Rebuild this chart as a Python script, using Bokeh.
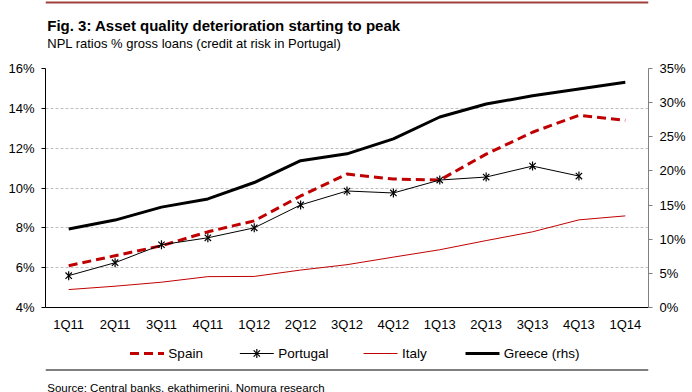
import math
from bokeh.plotting import figure
from bokeh.layouts import column
from bokeh.models import (FactorRange, Range1d, LinearAxis, FixedTicker, PrintfTickFormatter,
                          Label, Span)
from bokeh.core.properties import value
from bokeh.embed import file_html
from bokeh.resources import INLINE

quarters = ["1Q11", "2Q11", "3Q11", "4Q11", "1Q12", "2Q12", "3Q12", "4Q12",
            "1Q13", "2Q13", "3Q13", "4Q13", "1Q14"]
spain = [6.1, 6.6, 7.1, 7.8, 8.35, 9.6, 10.7, 10.45, 10.4, 11.7, 12.8, 13.65, 13.4]
portugal_q = quarters[:12]
portugal = [5.6, 6.25, 7.15, 7.5, 8.0, 9.15, 9.85, 9.75, 10.4, 10.55, 11.1, 10.6]
italy = [4.9, 5.07, 5.27, 5.55, 5.56, 5.88, 6.15, 6.53, 6.9, 7.36, 7.8, 8.4, 8.6]
greece_rhs = [11.5, 12.8, 14.7, 15.9, 18.3, 21.5, 22.5, 24.7, 27.9, 29.8, 31.0, 32.0, 33.0]
left_ticks = [4, 6, 8, 10, 12, 14, 16]
right_ticks = [0, 5, 10, 15, 20, 25, 30, 35]
series_names = ["Spain", "Portugal", "Italy", "Greece (rhs)"]

title_text = "Fig. 3: Asset quality deterioration starting to peak"
subtitle_text = "NPL ratios % gross loans (credit at risk in Portugal)"
source_text = "Source: Central banks, ekathimerini, Nomura research"

FONT = "Liberation Sans"
RED = "#C00000"
W = 692

spain_style = dict(line_color=RED, line_width=3, line_dash="9 5")
port_style = dict(line_color="black", line_width=1)
mark_style = dict(size=9, line_color="black", line_width=1.2)
italy_style = dict(line_color=RED, line_width=1)
greece_style = dict(line_color="black", line_width=3)


def blank_fig(h):
    f = figure(width=W, height=h, x_range=Range1d(0, W), y_range=Range1d(h, 0),
               x_axis_location=None, y_axis_location=None, min_border=0,
               output_backend="svg", toolbar_location=None, outline_line_color=None,
               background_fill_color="white", border_fill_color="white")
    f.grid.visible = False
    return f


# ---------- header ----------
top = blank_fig(58)
top.add_layout(Span(location=2, dimension="width", line_color="#A0403C", line_width=2))
top.add_layout(Label(x=2, y=25, text=title_text, text_font=FONT, text_font_size="15px",
                     text_font_style="bold", text_color="black", text_baseline="alphabetic"))
top.add_layout(Label(x=2, y=43, text=subtitle_text, text_font=FONT, text_font_size="13px",
                     text_color="black", text_baseline="alphabetic"))

# ---------- main chart ----------
p = figure(x_range=FactorRange(factors=quarters), y_range=Range1d(4, 16),
           width=W, frame_width=603, frame_height=239,
           min_border_left=45, min_border_right=44, min_border_top=10, min_border_bottom=25,
           output_backend="svg", toolbar_location=None, outline_line_color=None,
           background_fill_color="white", border_fill_color="white")
p.extra_y_ranges = {"rhs": Range1d(0, 35)}

ax = p.yaxis[0]
ax.ticker = FixedTicker(ticks=left_ticks)
ax.formatter = PrintfTickFormatter(format="%d%%")
ax.major_tick_out = 4
ax.major_tick_in = 0
ax.minor_tick_line_color = None
ax.axis_line_color = "black"
ax.major_tick_line_color = "black"
ax.major_label_standoff = 7
ax.major_label_text_font = FONT
ax.major_label_text_font_size = "13px"
ax.major_label_text_color = "black"

rax = LinearAxis(y_range_name="rhs", ticker=FixedTicker(ticks=right_ticks),
                 formatter=PrintfTickFormatter(format="%d%%"))
rax.major_tick_out = 4
rax.major_tick_in = 0
rax.minor_tick_line_color = None
rax.axis_line_color = "#808080"
rax.major_tick_line_color = "#808080"
rax.major_label_standoff = 7
rax.major_label_text_font = FONT
rax.major_label_text_font_size = "13px"
rax.major_label_text_color = "black"
p.add_layout(rax, "right")

xax = p.xaxis[0]
xax.major_tick_out = 0
xax.major_tick_in = 0
xax.minor_tick_out = 0
xax.minor_tick_in = 0
xax.major_tick_line_color = None
xax.minor_tick_line_color = None
xax.axis_line_color = "black"
xax.major_label_standoff = 9
xax.major_label_text_font = FONT
xax.major_label_text_font_size = "13px"
xax.major_label_text_color = "black"

p.xgrid.grid_line_color = None
p.ygrid.ticker = FixedTicker(ticks=left_ticks)
p.ygrid.grid_line_color = "#BFBFBF"
p.ygrid.grid_line_dash = "3 2"

p.line(quarters, spain, **spain_style)
p.line(portugal_q, portugal, **port_style)
p.scatter(portugal_q, portugal, marker="x", **mark_style)
p.scatter(portugal_q, portugal, marker="dash", angle=math.pi / 2, **mark_style)
p.line(quarters, italy, **italy_style)
p.line(quarters, greece_rhs, y_range_name="rhs", **greece_style)

# ---------- footer: legend keys, rule, source ----------
bot = blank_fig(60)
key_left = [97, 223, 365, 482]      # legend layout (pixels in footer)
KEY_W, KEY_GAP, KEY_Y = 39, 5, 19
styles = [spain_style, port_style, italy_style, greece_style]
for xl, st in zip(key_left, styles):
    bot.segment(x0=[xl], y0=[KEY_Y], x1=[xl + KEY_W], y1=[KEY_Y], **st)
mid = key_left[1] + KEY_W / 2
bot.scatter([mid], [KEY_Y], marker="x", **mark_style)
bot.scatter([mid], [KEY_Y], marker="dash", angle=math.pi / 2, **mark_style)
bot.text(x=[xl + KEY_W + KEY_GAP for xl in key_left], y=[KEY_Y] * 4, text=series_names,
         text_font=value(FONT), text_font_size="13.5px", text_color="black",
         text_baseline="middle", text_align="left")
bot.segment(x0=[0], y0=[35.5], x1=[W], y1=[35.5], line_color="black", line_width=1)
bot.text(x=[2], y=[53], text=[source_text], text_font=value(FONT),
         text_font_size="11.5px", text_color="black", text_baseline="alphabetic",
         text_align="left")

layout = column(top, p, bot, spacing=0)
open("out.html", "w").write(file_html(layout, INLINE))
